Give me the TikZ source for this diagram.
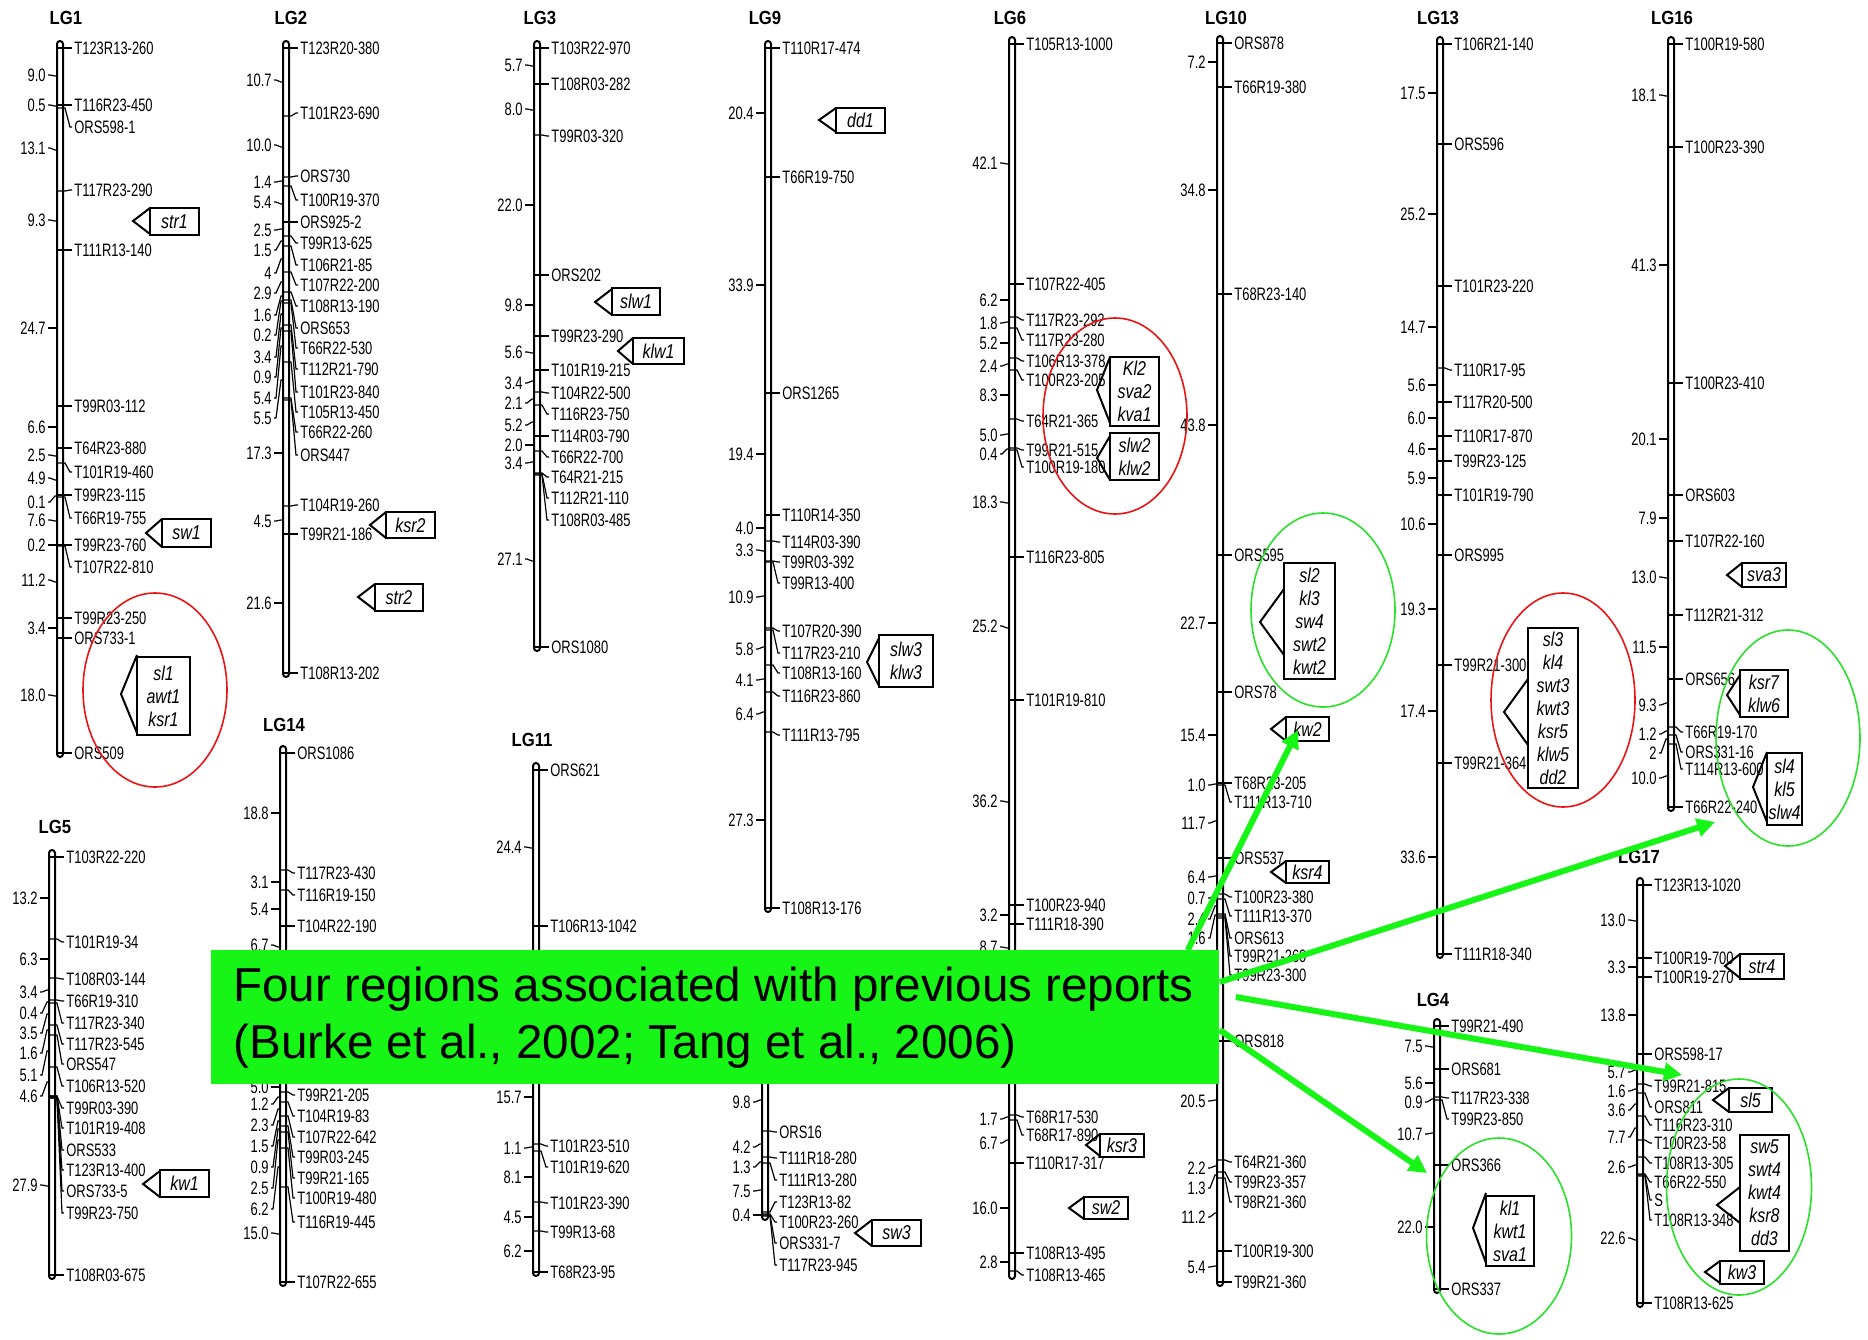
\documentclass[tikz,border=0pt]{standalone}
\usepackage{fontspec}
\setmainfont{Liberation Sans}
\newfontfamily\mkfont[FakeStretch=0.72]{Liberation Sans}
\newfontfamily\qfont[FakeStretch=0.8]{Liberation Sans}
\newfontfamily\lgfont[FakeStretch=0.88]{Liberation Sans}
\usetikzlibrary{arrows.meta,shapes.geometric}

\definecolor{notegreen}{RGB}{22,245,22}
\definecolor{ringgreen}{RGB}{40,225,40}
\definecolor{ringred}{RGB}{235,20,20}

% linkage group bar: x, top, bottom
\newcommand{\lgbar}[3]{\draw[barline] (#1-3,#2) rectangle (#1+3,#3);}
% markers on the right: tick y / label y / name
\newcommand{\markers}[3]{%
  \foreach \ty/\ly/\lab [count=\i] in {#3}{%
    \draw[mtick] (#2-3,\ty) -- (#2+5,\ty) -- (#2+10,\ly) -- (#2+12,\ly);
    \node[mk] (#1m\i) at (#2+13,\ly) {\lab};
  }}
% distances on the left: tick y / label y / cM
\newcommand{\dists}[3]{%
  \foreach \ty/\ly/\dv [count=\i] in {#3}{%
    \draw[mtick] (#2-3,\ty) -- (#2-5,\ty) -- (#2-10,\ly) -- (#2-12,\ly);
    \node[dlab] (#1d\i) at (#2-13,\ly) {\dv};
  }}
% QTL box: name, left, top, right, bottom, tip x, tip y, half, text
\newcommand{\qtl}[9]{%
  \node[qtlbox, minimum width={(#4-#2)*0.5pt}, minimum height={(#5-#3)*0.5pt}] (#1) at ({(#2+#4)/2},{(#3+#5)/2}) {#9};
  \coordinate (#1tip) at (#6,#7);
  \coordinate (#1a) at (#2,{#7-#8});
  \coordinate (#1b) at (#2,{#7+#8});
  \draw[pointer] (#1a) -- (#1tip) -- (#1b);
}

\begin{document}
\begin{tikzpicture}[x=0.5pt, y=-0.5pt,
  barline/.style={line width=1pt, rounded corners=1.5pt},
  mtick/.style={line width=0.6pt},
  mk/.style={anchor=west, inner sep=0.5pt, font=\mkfont\fontsize{9}{9}\selectfont},
  dlab/.style={anchor=east, inner sep=0.5pt, font=\mkfont\fontsize{9}{9}\selectfont},
  lgtitle/.style={inner sep=0pt, font=\lgfont\bfseries\fontsize{9.5}{9.5}\selectfont},
  qtlbox/.style={draw, line width=1pt, inner sep=0pt, align=center, font=\qfont\itshape\fontsize{10}{11.5}\selectfont},
  pointer/.style={line width=1pt},
  ring/.style={ellipse, draw, line width=0.8pt, inner sep=0pt},
  notebox/.style={fill=notegreen, inner sep=0pt, minimum width=504pt, minimum height=67pt},
  notetext/.style={anchor=west, inner sep=0pt, align=left, font=\fontsize{23.8}{28.5}\selectfont},
  greenarrow/.style={draw=notegreen, line width=3pt, -{Triangle[length=9pt,width=9pt]}}
]
\fill[white] (0,0) rectangle (1868,1339);
\useasboundingbox (0,0) rectangle (1868,1339);

% LG1
\node[lgtitle] (t1) at (66,18) {LG1};
\lgbar{60}{41}{757}
\markers{lg1}{60}{48/48/T123R13-260, 105/105/T116R23-450, 108/127/ORS598-1, 191/190/T117R23-290,
  250/250/T111R13-140, 406/406/T99R03-112, 448/448/T64R23-880, 463/472/T101R19-460,
  495/495/T99R23-115, 497/518/T66R19-755, 545/545/T99R23-760, 546/567/T107R22-810,
  618/618/T99R23-250, 638/638/ORS733-1, 753/753/ORS509}
\dists{lg1}{60}{76/75/9.0, 106/105/0.5, 150/148/13.1, 221/220/9.3, 328/328/24.7, 427/427/6.6,
  456/455/2.5, 480/478/4.9, 496/502/0.1, 521/520/7.6, 545/545/0.2, 582/580/11.2,
  628/628/3.4, 696/695/18.0}
\qtl{q1}{150}{208}{199}{235}{133}{221}{13}{str1}
\qtl{q2}{162}{519}{211}{547}{146}{533}{14}{sw1}
\qtl{q3}{137}{657}{190}{735}{121}{694}{39}{sl1\\awt1\\ksr1}

% LG2
\node[lgtitle] (t2) at (291,18) {LG2};
\lgbar{286}{41}{677}
\markers{lg2}{286}{48/48/T123R20-380, 116/113/T101R23-690, 177/176/ORS730, 186/200/T100R19-370,
  222/222/ORS925-2, 236/243/T99R13-625, 246/265/T106R21-85, 272/285/T107R22-200,
  292/306/T108R13-190, 300/328/ORS653, 303/348/T66R22-530, 325/369/T112R21-790,
  331/392/T101R23-840, 362/412/T105R13-450, 398/432/T66R22-260, 400/455/ORS447,
  506/505/T104R19-260, 534/534/T99R21-186, 673/673/T108R13-202}
\dists{lg2}{286}{82/80/10.7, 147/145/10.0, 181/182/1.4, 204/202/5.4, 229/230/2.5, 241/250/1.5,
  259/273/4, 282/293/2.9, 296/315/1.6, 301/335/0.2, 314/357/3.4, 328/377/0.9,
  346/398/5.4, 380/418/5.5, 453/453/17.3, 520/521/4.5, 603/603/21.6}
\qtl{q4}{386}{512}{435}{538}{370}{525}{13}{ksr2}
\qtl{q5}{375}{584}{423}{611}{358}{597}{13}{str2}

% LG3
\node[lgtitle] (t3) at (540,18) {LG3};
\lgbar{537}{41}{651}
\markers{lg3}{537}{48/48/T103R22-970, 84/84/T108R03-282, 135/136/T99R03-320, 275/275/ORS202,
  336/336/T99R23-290, 370/370/T101R19-215, 392/393/T104R22-500, 405/414/T116R23-750,
  436/436/T114R03-790, 451/457/T66R22-700, 473/477/T64R21-215, 474/498/T112R21-110,
  475/520/T108R03-485, 647/647/ORS1080}
\dists{lg3}{537}{66/65/5.7, 110/109/8.0, 205/205/22.0, 305/305/9.8, 353/352/5.6, 381/383/3.4,
  399/403/2.1, 422/425/5.2, 445/445/2.0, 462/463/3.4, 561/559/27.1}
\qtl{q6}{612}{288}{660}{315}{595}{302}{13}{slw1}
\qtl{q7}{633}{338}{684}{364}{618}{351}{13}{klw1}

% LG9
\node[lgtitle] (t9) at (765,18) {LG9};
\lgbar{768}{41}{912}
\markers{lg9}{768}{48/48/T110R17-474, 177/177/T66R19-750, 393/393/ORS1265, 515/515/T110R14-350,
  541/542/T114R03-390, 561/562/T99R03-392, 562/583/T99R13-400, 628/631/T107R20-390,
  630/653/T117R23-210, 665/673/T108R13-160, 692/696/T116R23-860, 732/735/T111R13-795,
  908/908/T108R13-176}
\dists{lg9}{768}{113/113/20.4, 285/285/33.9, 454/454/19.4, 528/528/4.0, 551/550/3.3,
  596/597/10.9, 647/649/5.8, 679/680/4.1, 712/714/6.4, 820/820/27.3}
\qtl{q8}{836}{108}{885}{133}{819}{120}{12}{dd1}
\qtl{q9}{879}{635}{933}{687}{867}{662}{24}{slw3\\klw3}

% group below LG9 (title under the note)
\lgbar{765}{1060}{1220}
\markers{lgx}{765}{1131/1132/ORS16, 1157/1158/T111R18-280, 1163/1180/T111R13-280,
  1212/1202/T123R13-82, 1214/1222/T100R23-260, 1215/1243/ORS331-7, 1216/1265/T117R23-945}
\dists{lgx}{765}{1100/1102/9.8, 1144/1147/4.2, 1162/1167/1.3, 1190/1191/7.5, 1215/1215/0.4}
\qtl{q10}{872}{1220}{921}{1246}{855}{1233}{13}{sw3}

% LG6
\node[lgtitle] (t6) at (1010,18) {LG6};
\lgbar{1012}{37}{1279}
\markers{lg6}{1012}{44/44/T105R13-1000, 284/284/T107R22-405, 317/320/T117R23-292,
  328/340/T117R23-280, 358/361/T106R13-378, 370/380/T100R23-205, 419/421/T64R21-365,
  448/450/T99R21-515, 450/467/T100R19-180, 557/557/T116R23-805, 700/700/T101R19-810,
  905/905/T100R23-940, 924/924/T111R18-390, 1115/1117/T68R17-530, 1120/1135/T68R17-890,
  1163/1163/T110R17-317, 1253/1253/T108R13-495, 1271/1275/T108R13-465}
\dists{lg6}{1012}{164/163/42.1, 300/300/6.2, 322/323/1.8, 343/343/5.2, 364/366/2.4,
  395/395/8.3, 434/435/5.0, 449/454/0.4, 503/502/18.3, 628/626/25.2, 802/801/36.2,
  915/915/3.2, 948/947/8.7, 1117/1119/1.7, 1140/1143/6.7, 1208/1208/16.0, 1262/1262/2.8}
\qtl{q11}{1110}{357}{1159}{426}{1097}{390}{33}{Kl2\\sva2\\kva1}
\qtl{q12}{1110}{433}{1159}{480}{1097}{458}{22}{slw2\\klw2}
\qtl{q13}{1100}{1134}{1144}{1157}{1086}{1145}{11}{ksr3}
\qtl{q14}{1084}{1197}{1128}{1219}{1069}{1208}{11}{sw2}

% LG10
\node[lgtitle] (t10) at (1226,18) {LG10};
\lgbar{1220}{36}{1286}
\markers{lg10}{1220}{43/43/ORS878, 87/87/T66R19-380, 294/294/T68R23-140, 555/555/ORS595,
  692/692/ORS78, 783/783/T68R23-205, 785/802/T111R13-710, 858/858/ORS537,
  894/897/T100R23-380, 899/916/T111R13-370, 914/938/ORS613, 916/956/T99R21-260,
  918/975/T99R23-300, 1041/1041/ORS818, 1160/1162/T64R21-360, 1172/1182/T99R23-357,
  1178/1202/T98R21-360, 1251/1251/T100R19-300, 1282/1282/T99R21-360}
\dists{lg10}{1220}{62/62/7.2, 190/190/34.8, 425/425/43.8, 623/623/22.7, 735/735/15.4,
  784/785/1.0, 821/823/11.7, 876/877/6.4, 896/898/0.7, 906/919/2.4, 915/938/1.6,
  1100/1101/20.5, 1166/1168/2.2, 1175/1188/1.3, 1213/1217/11.2, 1266/1267/5.4}
\qtl{q15}{1284}{563}{1335}{679}{1260}{622}{33}{sl2\\kl3\\sw4\\swt2\\kwt2}
\qtl{q16}{1286}{717}{1329}{741}{1271}{729}{12}{kw2}
\qtl{q17}{1286}{861}{1329}{883}{1271}{872}{11}{ksr4}

% LG13
\node[lgtitle] (t13) at (1438,18) {LG13};
\lgbar{1440}{37}{958}
\markers{lg13}{1440}{44/44/T106R21-140, 144/144/ORS596, 286/286/T101R23-220, 368/370/T110R17-95,
  402/402/T117R20-500, 436/436/T110R17-870, 461/461/T99R23-125, 495/495/T101R19-790,
  555/555/ORS995, 665/665/T99R21-300, 763/763/T99R21-364, 954/954/T111R18-340}
\dists{lg13}{1440}{93/93/17.5, 214/214/25.2, 327/327/14.7, 385/385/5.6, 418/418/6.0,
  449/449/4.6, 478/478/5.9, 524/524/10.6, 609/609/19.3, 711/711/17.4, 857/857/33.6}
\qtl{q18}{1528}{628}{1578}{788}{1504}{712}{33}{sl3\\kl4\\swt3\\kwt3\\ksr5\\klw5\\dd2}

% LG16
\node[lgtitle] (t16) at (1672,18) {LG16};
\lgbar{1671}{37}{811}
\markers{lg16}{1671}{44/44/T100R19-580, 147/147/T100R23-390, 383/383/T100R23-410, 495/495/ORS603,
  541/541/T107R22-160, 615/615/T112R21-312, 679/679/ORS656, 727/732/T66R19-170,
  735/752/ORS331-16, 744/769/T114R13-600, 807/807/T66R22-240}
\dists{lg16}{1671}{96/95/18.1, 265/265/41.3, 439/439/20.1, 518/518/7.9, 578/577/13.0,
  647/647/11.5, 703/705/9.3, 731/734/1.2, 739/753/2, 776/778/10.0}
\qtl{q19}{1742}{563}{1786}{587}{1727}{575}{12}{sva3}
\qtl{q20}{1740}{670}{1788}{717}{1727}{695}{20}{ksr7\\klw6}
\qtl{q21}{1767}{753}{1802}{825}{1753}{787}{35}{sl4\\kl5\\slw4}

% LG17
\node[lgtitle] (t17) at (1639,857) {LG17};
\lgbar{1640}{878}{1307}
\markers{lg17}{1640}{885/885/T123R13-1020, 958/958/T100R19-700, 977/977/T100R19-270,
  1054/1054/ORS598-17, 1084/1086/T99R21-815, 1093/1107/ORS811, 1116/1125/T116R23-310,
  1140/1143/T100R23-58, 1157/1163/T108R13-305, 1174/1182/T66R22-550, 1175/1200/S,
  1176/1220/T108R13-348, 1303/1303/T108R13-625}
\dists{lg17}{1640}{921/920/13.0, 967/967/3.3, 1015/1015/13.8, 1070/1072/5.7, 1089/1091/1.6,
  1104/1110/3.6, 1128/1137/7.7, 1165/1167/2.6, 1240/1238/22.6}
\qtl{q22}{1740}{954}{1784}{979}{1725}{966}{12}{str4}
\qtl{q23}{1729}{1088}{1772}{1112}{1713}{1100}{12}{sl5}
\qtl{q24}{1740}{1135}{1789}{1251}{1717}{1205}{18}{sw5\\swt4\\kwt4\\ksr8\\dd3}
\qtl{q25}{1720}{1261}{1764}{1284}{1705}{1272}{11}{kw3}

% LG4
\node[lgtitle] (t4) at (1433,1000) {LG4};
\lgbar{1437}{1019}{1293}
\markers{lg4}{1437}{1026/1026/T99R21-490, 1069/1069/ORS681, 1097/1098/T117R23-338,
  1100/1119/T99R23-850, 1165/1165/ORS366, 1289/1289/ORS337}
\dists{lg4}{1437}{1047/1046/7.5, 1083/1083/5.6, 1099/1102/0.9, 1133/1134/10.7, 1227/1227/22.0}
\qtl{q26}{1486}{1196}{1534}{1266}{1473}{1228}{35}{kl1\\kwt1\\sva1}

% LG5
\node[lgtitle] (t5) at (55,827) {LG5};
\lgbar{52}{850}{1279}
\markers{lg5}{52}{857/857/T103R22-220, 939/942/T101R19-34, 978/979/T108R03-144,
  1000/1001/T66R19-310, 1003/1023/T117R23-340, 1025/1044/T117R23-545, 1035/1064/ORS547,
  1067/1086/T106R13-520, 1096/1108/T99R03-390, 1096/1128/T101R19-408, 1097/1150/ORS533,
  1097/1170/T123R13-400, 1098/1191/ORS733-5, 1098/1213/T99R23-750, 1275/1275/T108R03-675}
\dists{lg5}{52}{898/898/13.2, 959/959/6.3, 990/992/3.4, 1002/1013/0.4, 1014/1033/3.5,
  1030/1053/1.6, 1051/1075/5.1, 1082/1096/4.6, 1186/1185/27.9}
\qtl{q27}{160}{1170}{209}{1197}{143}{1184}{13}{kw1}

% LG14
\node[lgtitle] (t14) at (284,725) {LG14};
\lgbar{283}{746}{1286}
\markers{lg14}{283}{753/753/ORS1086, 870/873/T117R23-430, 890/895/T116R19-150,
  926/926/T104R22-190, 1092/1095/T99R21-205, 1102/1116/T104R19-83, 1116/1137/T107R22-642,
  1126/1157/T99R03-245, 1132/1178/T99R21-165, 1148/1198/T100R19-480,
  1187/1222/T116R19-445, 1282/1282/T107R22-655}
\dists{lg14}{283}{813/813/18.8, 882/882/3.1, 909/909/5.4, 947/945/6.7, 1087/1087/5.0,
  1097/1104/1.2, 1109/1125/2.3, 1121/1146/1.5, 1129/1167/0.9, 1140/1188/2.5,
  1167/1209/6.2, 1234/1233/15.0}

% LG11
\node[lgtitle] (t11) at (532,740) {LG11};
\lgbar{536}{763}{1276}
\markers{lg11}{536}{770/770/ORS621, 926/926/T106R13-1042, 1144/1146/T101R23-510,
  1151/1167/T101R19-620, 1202/1203/T101R23-390, 1231/1232/T99R13-68, 1272/1272/T68R23-95}
\dists{lg11}{536}{848/847/24.4, 1097/1097/15.7, 1147/1148/1.1, 1177/1177/8.1,
  1217/1217/4.5, 1251/1251/6.2}

% rings round the regions
\node[ring, draw=ringred, minimum width=72pt, minimum height=97pt] (r1) at (155,690) {};
\node[ring, draw=ringred, minimum width=72pt, minimum height=98pt] (r6) at (1115,416) {};
\node[ring, draw=ringgreen, minimum width=72pt, minimum height=97pt] (r10) at (1323,610) {};
\node[ring, draw=ringred, minimum width=72pt, minimum height=107pt] (r13) at (1563,700) {};
\node[ring, draw=ringgreen, minimum width=72pt, minimum height=108pt] (r16) at (1788,738) {};
\node[ring, draw=ringgreen, minimum width=72.5pt, minimum height=98pt] (r4) at (1499,1236) {};
\node[ring, draw=ringgreen, minimum width=72.5pt, minimum height=108pt] (r17) at (1739,1187) {};

% note and arrows
\node[notebox, anchor=north west] (note) at (211,950) {};
\node[notetext] (notetxt) at ([xshift=11pt]note.west) {Four regions associated with previous reports\\(Burke et al., 2002; Tang et al., 2006)};
\coordinate (a1s) at ([xshift=-16pt]note.north east);
\coordinate (a2s) at ([yshift=-16pt]note.north east);
\coordinate (a3s) at ([xshift=8pt,yshift=-23.5pt]note.north east);
\coordinate (a4s) at ([yshift=-40pt]note.north east);
\coordinate (a1e) at (1298,730);
\coordinate (a2e) at (1715,822);
\coordinate (a3e) at (1682,1075);
\coordinate (a4e) at (1427,1173);
\draw[greenarrow] (a1s) -- (a1e);
\draw[greenarrow] (a2s) -- (a2e);
\draw[greenarrow] (a3s) -- (a3e);
\draw[greenarrow] (a4s) -- (a4e);
\end{tikzpicture}
\end{document}
